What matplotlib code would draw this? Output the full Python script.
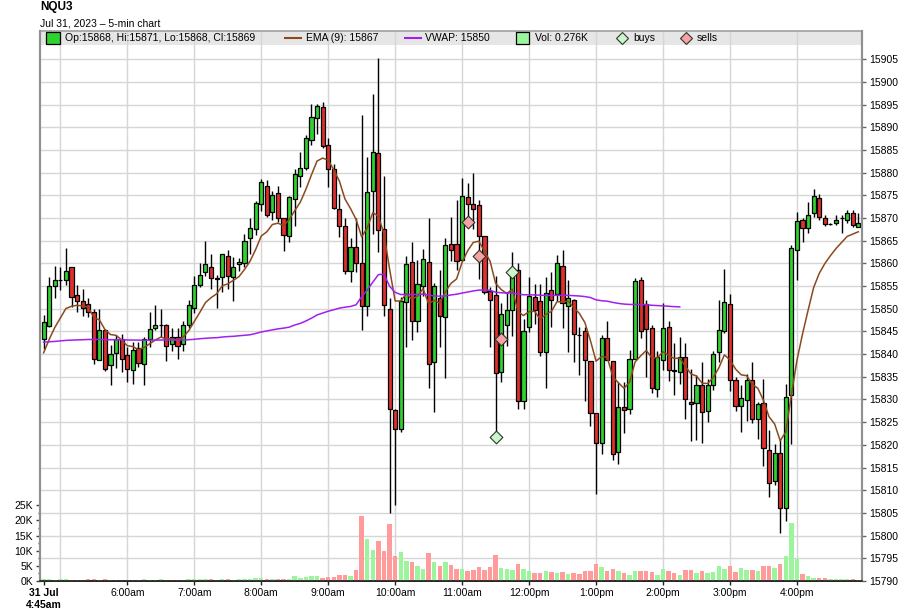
import numpy as np
import matplotlib
matplotlib.use('Agg')
import matplotlib.pyplot as plt
from matplotlib.patches import Rectangle
from matplotlib.lines import Line2D

plt.rcParams['font.family'] = ['Liberation Sans', 'DejaVu Sans']

# ---------------- data (5-min bars, 31 Jul 2023 from 4:45am) ----------------
opens = [15843.4, 15846.2, 15855.0, 15856.4, 15856.4, 15859.1, 15853.1, 15851.6, 15851.1, 15849.2,
         15838.8, 15845.4, 15837.7, 15840.3, 15843.4, 15839.8, 15836.6, 15841.4, 15837.9, 15843.3,
         15845.7, 15846.4, 15846.4, 15842.2, 15843.7, 15842.2, 15846.4, 15850.1, 15855.2, 15858.2,
         15859.3, 15856.8, 15857.1, 15861.6, 15857.1, 15859.9, 15860.1, 15865.6, 15867.6, 15873.0,
         15877.0, 15871.3, 15875.5, 15870.0, 15866.0, 15874.1, 15879.3, 15881.0, 15887.2, 15892.1,
         15894.5, 15886.0, 15880.8, 15872.0, 15868.3, 15858.3, 15863.7, 15860.0, 15850.5, 15876.0,
         15884.3, 15867.6, 15850.0, 15827.6, 15823.4, 15851.5, 15860.2, 15847.2, 15855.1, 15860.4,
         15838.2, 15852.3, 15848.1, 15864.2, 15864.2, 15860.7, 15874.6, 15873.0, 15872.8, 15866.0,
         15853.9, 15853.0, 15836.1, 15846.4, 15849.7, 15858.5, 15829.7, 15845.9, 15852.6, 15851.7,
         15840.4, 15854.1, 15853.3, 15859.5, 15850.6, 15851.9, 15844.3, 15845.2, 15838.4, 15827.0,
         15820.4, 15843.6, 15838.4, 15818.4, 15828.3, 15827.9, 15838.9, 15856.4, 15851.0, 15845.7,
         15832.4, 15838.8, 15845.9, 15836.4, 15836.0, 15839.4, 15829.5, 15829.3, 15833.2, 15827.5,
         15833.3, 15840.4, 15845.1, 15851.0, 15834.4, 15828.6, 15829.9, 15834.4, 15825.8, 15829.3,
         15818.8, 15812.0, 15818.1, 15806.1, 15830.9, 15863.0, 15869.6, 15867.7, 15871.0, 15874.3,
         15870.0, 15868.6, 15868.8, 15870.0, 15869.5, 15871.0, 15868.0]
highs = [15848.7, 15857.0, 15859.4, 15859.1, 15863.3, 15859.3, 15855.3, 15854.4, 15852.4, 15850.0,
         15849.9, 15845.6, 15842.0, 15844.1, 15844.4, 15841.6, 15842.7, 15842.7, 15843.8, 15849.2,
         15850.9, 15850.0, 15846.6, 15845.7, 15845.7, 15847.4, 15852.0, 15857.3, 15860.1, 15865.0,
         15862.1, 15857.4, 15862.1, 15863.0, 15861.5, 15861.1, 15866.5, 15870.0, 15873.8, 15878.5,
         15878.4, 15876.0, 15877.0, 15870.1, 15874.9, 15880.9, 15884.5, 15888.2, 15895.1, 15895.1,
         15895.5, 15887.6, 15881.8, 15875.3, 15870.1, 15865.6, 15870.0, 15892.6, 15883.4, 15897.4,
         15905.2, 15879.3, 15852.3, 15827.8, 15852.5, 15861.7, 15864.7, 15860.7, 15863.2, 15870.0,
         15855.7, 15858.5, 15865.6, 15870.2, 15873.9, 15878.9, 15877.8, 15879.8, 15873.9, 15866.1,
         15854.7, 15857.2, 15851.2, 15853.7, 15862.5, 15860.0, 15847.7, 15857.0, 15855.4, 15855.5,
         15857.0, 15858.2, 15861.8, 15863.0, 15856.4, 15852.1, 15845.9, 15845.9, 15838.5, 15827.1,
         15844.1, 15847.4, 15838.5, 15833.8, 15833.8, 15840.8, 15856.7, 15856.9, 15851.9, 15846.4,
         15840.7, 15851.2, 15847.3, 15842.4, 15843.7, 15842.4, 15836.8, 15835.4, 15838.3, 15834.6,
         15840.7, 15851.9, 15858.8, 15853.2, 15835.0, 15833.2, 15835.7, 15838.3, 15829.5, 15834.6,
         15823.2, 15820.1, 15821.4, 15833.5, 15864.0, 15871.3, 15869.9, 15873.5, 15876.3, 15875.2,
         15870.6, 15868.8, 15870.6, 15870.6, 15871.7, 15871.7, 15871.0]
lows = [15841.1, 15846.0, 15852.4, 15854.1, 15855.2, 15850.4, 15849.2, 15848.3, 15848.1, 15837.8,
        15838.6, 15836.2, 15833.3, 15837.0, 15836.0, 15833.9, 15833.5, 15837.2, 15833.3, 15841.5,
        15845.3, 15843.7, 15838.5, 15840.6, 15838.9, 15840.7, 15845.7, 15849.0, 15854.7, 15857.3,
        15854.3, 15850.1, 15853.6, 15854.3, 15851.6, 15858.4, 15859.1, 15862.0, 15866.2, 15871.5,
        15870.2, 15869.5, 15869.2, 15862.8, 15864.6, 15868.3, 15876.9, 15880.5, 15886.0, 15888.5,
        15885.4, 15876.9, 15871.9, 15865.8, 15857.7, 15855.9, 15858.1, 15845.3, 15848.5, 15866.4,
        15862.6, 15848.5, 15805.0, 15806.8, 15822.9, 15841.5, 15843.0, 15844.9, 15852.8, 15832.5,
        15827.2, 15841.5, 15834.8, 15860.5, 15858.5, 15860.5, 15870.1, 15867.5, 15856.5, 15853.2,
        15841.5, 15821.8, 15833.9, 15841.8, 15844.0, 15827.9, 15827.9, 15844.8, 15846.6, 15839.5,
        15832.5, 15845.9, 15851.8, 15845.7, 15840.4, 15838.2, 15835.5, 15829.6, 15824.1, 15809.2,
        15818.0, 15838.6, 15816.7, 15815.8, 15822.6, 15826.8, 15838.9, 15843.5, 15835.0, 15831.5,
        15830.6, 15836.5, 15834.1, 15831.0, 15833.5, 15825.6, 15820.9, 15821.0, 15820.4, 15825.1,
        15832.1, 15838.3, 15844.7, 15831.9, 15827.5, 15822.9, 15825.2, 15824.9, 15821.2, 15815.4,
        15808.6, 15811.1, 15800.5, 15803.3, 15820.3, 15856.4, 15864.7, 15866.6, 15870.2, 15869.6,
        15868.2, 15868.4, 15868.4, 15866.7, 15868.8, 15868.0, 15868.0]
closes = [15847.0, 15855.1, 15856.3, 15856.4, 15858.4, 15852.5, 15851.6, 15850.1, 15849.2, 15839.0,
          15845.4, 15836.8, 15840.0, 15843.4, 15839.0, 15836.8, 15841.0, 15838.1, 15843.4, 15845.5,
          15846.4, 15846.4, 15841.7, 15843.7, 15841.7, 15846.4, 15850.8, 15855.2, 15857.4, 15859.9,
          15856.8, 15856.6, 15862.1, 15857.3, 15859.3, 15860.3, 15865.0, 15867.8, 15873.3, 15877.9,
          15870.7, 15875.0, 15870.0, 15866.2, 15874.7, 15879.6, 15881.0, 15887.6, 15892.3, 15894.7,
          15885.8, 15880.9, 15872.1, 15868.3, 15858.4, 15863.6, 15860.0, 15850.5, 15875.8, 15884.5,
          15867.3, 15850.8, 15827.8, 15823.6, 15851.7, 15859.8, 15847.2, 15855.4, 15860.9, 15837.9,
          15854.9, 15848.5, 15864.0, 15862.9, 15860.5, 15874.9, 15873.0, 15871.9, 15866.0, 15853.7,
          15852.0, 15835.9, 15848.8, 15849.8, 15858.1, 15829.7, 15845.0, 15852.8, 15849.7, 15840.4,
          15853.4, 15851.9, 15860.1, 15851.3, 15852.4, 15844.4, 15844.1, 15838.7, 15827.0, 15820.4,
          15843.6, 15838.6, 15818.0, 15828.3, 15827.7, 15838.9, 15856.2, 15845.0, 15845.6, 15832.6,
          15839.4, 15845.7, 15836.6, 15836.3, 15839.4, 15830.2, 15828.9, 15833.3, 15827.3, 15833.2,
          15840.1, 15845.4, 15851.4, 15834.3, 15828.6, 15830.4, 15834.4, 15825.6, 15829.1, 15819.2,
          15811.7, 15818.3, 15806.1, 15830.6, 15863.3, 15869.3, 15867.7, 15870.6, 15874.8, 15870.2,
          15868.6, 15868.6, 15869.6, 15870.0, 15871.2, 15868.5, 15869.0]
volumes_k = [0.7, 0.7, 0.4, 0.7, 0.5, 0.4, 0.4, 0.4, 0.7, 0.7,
             0.4, 0.7, 0.4, 0.4, 0.4, 0.4, 0.4, 0.4, 0.7, 0.4,
             0.4, 0.5, 0.4, 0.4, 0.4, 0.4, 0.8, 0.8, 0.8, 0.5,
             0.5, 0.4, 0.8, 0.7, 0.4, 0.7, 0.5, 0.5, 1.0, 1.0,
             0.8, 0.8, 0.8, 0.8, 0.8, 1.6, 1.1, 1.4, 1.5, 1.7,
             1.1, 1.4, 1.4, 2.0, 2.0, 1.7, 3.6, 21.4, 13.7, 10.1,
             13.1, 9.8, 18.8, 8.3, 9.5, 6.5, 6.2, 5.0, 4.0, 9.2,
             6.2, 5.0, 6.3, 5.3, 3.9, 4.1, 3.3, 3.6, 4.6, 3.6,
             4.6, 8.6, 4.3, 4.0, 3.6, 5.6, 4.0, 3.3, 2.6, 2.8,
             3.3, 3.1, 2.7, 3.1, 2.4, 2.8, 2.4, 3.2, 3.4, 5.7,
             4.7, 3.2, 4.0, 3.3, 2.6, 2.1, 3.4, 3.4, 3.3, 3.1,
             2.0, 3.8, 3.3, 2.5, 2.0, 3.6, 3.6, 2.7, 3.3, 2.5,
             3.1, 4.8, 3.9, 4.9, 3.0, 4.3, 3.6, 3.6, 3.2, 4.9,
             4.9, 4.3, 5.7, 8.1, 19.3, 7.1, 2.2, 1.6, 1.1, 0.9,
             0.9, 0.6, 0.5, 0.5, 0.5, 0.5, 0.276]

ema_period = 9
ema_prev = 15838.6            # EMA value carried in from the prior bar
vwap_seed_price = 15842.6     # session VWAP carried in from before 4:45am
vwap_seed_vol_k = 74.0
vwap_last_bar = 114

buys_idx = [81, 84]
buys_px = [15821.8, 15858.1]
sells_idx = [76, 78, 82]
sells_px = [15869.2, 15861.7, 15843.4]

grid_idx = [3, 15, 27, 39, 51, 63, 75, 87, 99, 111, 123, 135]
hour_idx = [15, 27, 39, 51, 63, 75, 87, 99, 111, 123, 135]
hour_labels = ['6:00am', '7:00am', '8:00am', '9:00am', '10:00am', '11:00am',
               '12:00pm', '1:00pm', '2:00pm', '3:00pm', '4:00pm']
price_ticks = list(range(15790, 15906, 5))
vol_ticks_k = [0, 5, 10, 15, 20, 25]

# ---------------- derived indicators ----------------
o = np.array(opens); h = np.array(highs); l = np.array(lows); c = np.array(closes)
v = np.array(volumes_k)
n = len(c)
x = np.arange(n)

alpha = 2.0 / (ema_period + 1)
ema = []
e = ema_prev
for cc in c:
    e = e + alpha * (cc - e)
    ema.append(e)
ema = np.array(ema)

cum_pv = vwap_seed_price * vwap_seed_vol_k
cum_v = vwap_seed_vol_k
vwap = []
for i in range(vwap_last_bar + 1):
    tp = (h[i] + l[i] + c[i]) / 3.0
    cum_pv += tp * v[i]
    cum_v += v[i]
    vwap.append(cum_pv / cum_v)
vwap = np.array(vwap)

# ---------------- figure ----------------
W, H = 900, 616
fig = plt.figure(figsize=(W / 100, H / 100), dpi=100)
fig.patch.set_facecolor('white')
ax = fig.add_axes([40 / W, 35 / H, 822 / W, 550 / H])
axv = ax.twinx()

up_col = '#2fd22f'
dn_col = '#e0302c'
vup_col = '#9cf59c'
vdn_col = '#ff9b9b'

ax.set_xlim(-0.645, 146.66)
ax.set_ylim(15790, 15911.2)
axv.set_ylim(0, 181.5)

# grid
ax.set_axisbelow(True)
ax.set_yticks(price_ticks)
ax.grid(axis='y', color='#d6d6d6', lw=1.0, zorder=0.5)
for gx in grid_idx:
    ax.axvline(gx, color='#d6d6d6', lw=1.0, zorder=0.5)

# legend band at top of the plot area
band_h = 14 / 550
ax.add_patch(Rectangle((0, 1 - band_h), 1, band_h, transform=ax.transAxes,
                       facecolor='#e6e6e6', edgecolor='none', zorder=0.2))
ax.plot([0, 1], [1, 1], transform=ax.transAxes, color='#a0a0a0', lw=1.2,
        zorder=3, clip_on=False)

# candles
up = c >= o
ax.vlines(x, l, h, color='black', lw=1.0, zorder=2)
body_bottom = np.minimum(o, c)
body_h = np.abs(c - o)
ax.bar(x, body_h, bottom=body_bottom, width=0.74,
       color=np.where(up, up_col, dn_col), edgecolor='black', linewidth=0.9, zorder=3)

# indicators
ax.plot(x, ema, color='#8b4a1e', lw=1.1, zorder=4)
ax.plot(x[:vwap_last_bar + 1], vwap, color='#a020f0', lw=1.1, zorder=4)

# trade markers
ax.scatter(buys_idx, buys_px, marker='D', s=42, facecolor='#c8f7c8',
           edgecolor='#333333', linewidth=0.8, zorder=6)
ax.scatter(sells_idx, sells_px, marker='D', s=42, facecolor='#f5a3a3',
           edgecolor='#333333', linewidth=0.8, zorder=6)

# volume bars
axv.bar(x, v, width=0.8, color=np.where(up, vup_col, vdn_col), edgecolor='none', zorder=1)

# axes styling
ax.yaxis.set_ticks_position('right')
axv.yaxis.set_ticks_position('left')
axv.yaxis.set_label_position('left')
ax.set_yticklabels([str(t) for t in price_ticks])
ax.tick_params(axis='y', which='major', length=3, width=1, color='#666666',
               labelsize=7.5, pad=2, right=True, left=False)
axv.set_yticks([t for t in vol_ticks_k])
axv.set_yticklabels(['%dK' % t for t in vol_ticks_k])
axv.set_yticks([2.5, 7.5, 12.5, 17.5, 22.5], minor=True)
axv.tick_params(axis='y', which='major', length=3, width=1, color='#444444',
                labelsize=7.5, pad=2, left=True, right=False)
axv.tick_params(axis='y', which='minor', length=1.5, width=1, color='#444444',
                left=True, right=False)

ax.set_xticks([0] + hour_idx)
ax.set_xticklabels(['31 Jul\n4:45am'] + hour_labels)
ax.tick_params(axis='x', length=3, width=1, color='#222222', labelsize=7.5, pad=2)
lab0 = ax.get_xticklabels()[0]
lab0.set_fontweight('bold')
lab0.set_verticalalignment('top')

for sp in ['top']:
    ax.spines[sp].set_visible(False)
    axv.spines[sp].set_visible(False)
for a in (ax, axv):
    a.spines['left'].set_color('#909090')
    a.spines['left'].set_linewidth(1.5)
    a.spines['right'].set_color('#909090')
    a.spines['right'].set_linewidth(1.5)
    a.spines['bottom'].set_color('#222222')
    a.spines['bottom'].set_linewidth(1.2)

# ---------------- title & legend ----------------
def fx(px):
    return px / W

def fy(py):
    return 1 - py / H

fig.text(fx(40), fy(7), 'NQU3', fontsize=8.5, fontweight='bold', va='center', ha='left')
fig.text(fx(40), fy(23), 'Jul 31, 2023 \u2013 5-min chart', fontsize=7.5, va='center', ha='left')

ly = 38
fig.patches.append(Rectangle((fx(46), fy(44)), fx(60) - fx(46), fy(32) - fy(44),
                             transform=fig.transFigure, facecolor=up_col,
                             edgecolor='black', linewidth=0.9, zorder=10))
fig.text(fx(65), fy(ly), 'Op:15868, Hi:15871, Lo:15868, Cl:15869', fontsize=7.5,
         va='center', ha='left', zorder=10)
fig.lines.append(Line2D([fx(285), fx(301)], [fy(ly), fy(ly)], transform=fig.transFigure,
                        color='#8b4a1e', lw=1.5, zorder=10))
fig.text(fx(306), fy(ly), 'EMA (9): 15867', fontsize=7.5, va='center', ha='left', zorder=10)
fig.lines.append(Line2D([fx(405), fx(421)], [fy(ly), fy(ly)], transform=fig.transFigure,
                        color='#a020f0', lw=1.5, zorder=10))
fig.text(fx(425), fy(ly), 'VWAP: 15850', fontsize=7.5, va='center', ha='left', zorder=10)
fig.patches.append(Rectangle((fx(516), fy(44)), fx(529) - fx(516), fy(32) - fy(44),
                             transform=fig.transFigure, facecolor=vup_col,
                             edgecolor='black', linewidth=0.9, zorder=10))
fig.text(fx(535), fy(ly), 'Vol: 0.276K', fontsize=7.5, va='center', ha='left', zorder=10)
fig.lines.append(Line2D([fx(622)], [fy(ly)], transform=fig.transFigure, marker='D',
                        markersize=6, markerfacecolor='#c8f7c8', markeredgecolor='#333333',
                        markeredgewidth=0.8, linestyle='none', zorder=10))
fig.text(fx(633), fy(ly), 'buys', fontsize=7.5, va='center', ha='left', zorder=10)
fig.lines.append(Line2D([fx(686)], [fy(ly)], transform=fig.transFigure, marker='D',
                        markersize=6, markerfacecolor='#f5a3a3', markeredgecolor='#333333',
                        markeredgewidth=0.8, linestyle='none', zorder=10))
fig.text(fx(697), fy(ly), 'sells', fontsize=7.5, va='center', ha='left', zorder=10)

fig.savefig('out.png', dpi=100, facecolor='white')
